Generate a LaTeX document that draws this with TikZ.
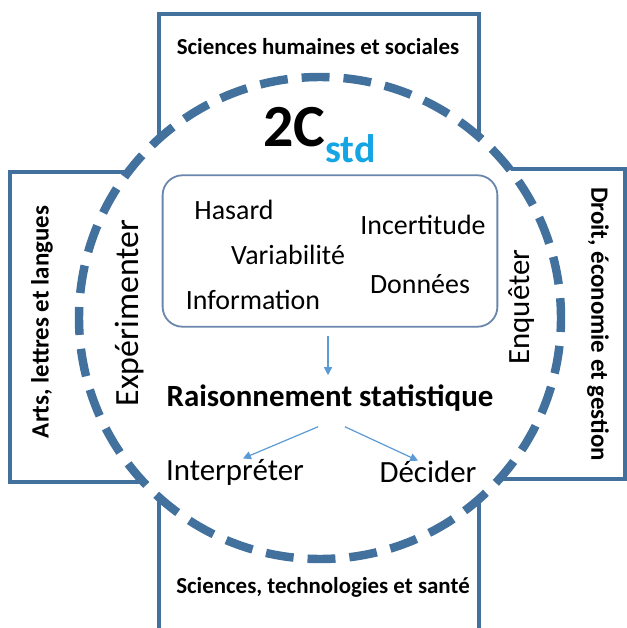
\documentclass[tikz,border=0pt]{standalone}
\usepackage{fontspec}
\setmainfont{Carlito}
\usetikzlibrary{arrows.meta}

\definecolor{crossblue}{RGB}{65,113,156}
\definecolor{boxblue}{RGB}{105,135,172}
\definecolor{arrowblue}{RGB}{91,155,213}
\definecolor{stdblue}{RGB}{20,165,228}

\begin{document}
\begin{tikzpicture}[x=1bp,y=-1bp,
    field/.style={font=\bfseries\fontsize{23}{25}\selectfont},
    sidefield/.style={font=\bfseries\fontsize{25}{27}\selectfont},
    verb/.style={font=\fontsize{31}{34}\selectfont},
    word/.style={font=\fontsize{28}{31}\selectfont},
    arr/.style={-{Triangle[length=8pt,width=8pt]},draw=arrowblue,line width=1.2pt}]
  \clip (0,0) rectangle (627,628);
  \fill[white] (0,0) rectangle (627,628);
  % the cross of the four fields
  \draw[crossblue,line width=3.5pt] (159,640) -- (159,482) -- (10,482) -- (10,172)
    -- (159,172) -- (159,14) -- (479,14) -- (479,169) -- (625,169) -- (625,479)
    -- (479,479) -- (479,640);
  \fill[white] (320,318) circle (241);
  \draw[crossblue,line width=8.5pt,dash pattern=on 28pt off 14.06pt,dash phase=14pt]
    (320,318) circle (241);

  % fields
  \node[field] (shs) at (318,47) {Sciences humaines et sociales};
  \node[field] (sts) at (323,587) {Sciences, technologies et santé};
  \node[sidefield,rotate=90] (all) at (42,322) {Arts, lettres et langues};
  \node[sidefield,rotate=-90] (deg) at (598,324) {Droit, économie et gestion};

  % title
  \node[font=\bfseries\fontsize{60}{60}\selectfont,inner sep=0pt,anchor=base] (deuxc) at (294,147) {2C};
  \node[font=\bfseries\fontsize{40}{40}\selectfont,text=stdblue,inner sep=0pt,anchor=base west]
    (std) at ([yshift=-16pt]deuxc.base east) {std};

  % notions
  \node[draw=boxblue,line width=1.8pt,rounded corners=20pt,minimum width=336pt,minimum height=152pt] (notions) at (330,251) {};
  \node[word] (hasard) at (234,210) {Hasard};
  \node[word] (incert) at (423,225) {Incertitude};
  \node[word] (variab) at (288,255) {Variabilité};
  \node[word] (donnees) at (420,284) {Données};
  \node[word] (info) at (253,300) {Information};

  \node[verb,font=\fontsize{34}{37}\selectfont,rotate=90] (exper) at (130,313) {Expérimenter};
  \node[verb,rotate=90] (enquet) at (522,307) {Enquêter};

  \node[font=\bfseries\fontsize{31}{34}\selectfont] (rs) at (330,398) {Raisonnement statistique};
  \node[verb] (interp) at (235,472) {Interpréter};
  \node[verb] (decid) at (428,472) {Décider};

  \draw[arr,shorten <=8pt,shorten >=6pt] ([xshift=-2pt]notions.south) -- ([xshift=-2pt]rs.north);
  \draw[arr] ([shift={(-12pt,-12pt)}]rs.south) -- ([shift={(8pt,-3pt)}]interp.north);
  \draw[arr] ([shift={(15pt,-12pt)}]rs.south) -- ([shift={(-10pt,-3pt)}]decid.north);
\end{tikzpicture}
\end{document}
